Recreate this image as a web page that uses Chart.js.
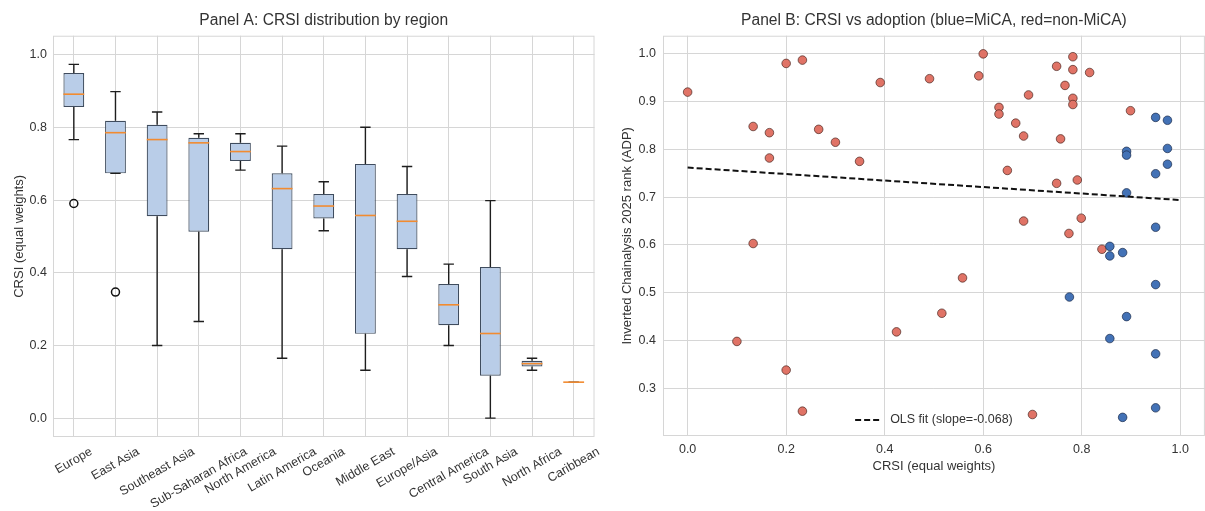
<!DOCTYPE html>
<html>
<head>
<meta charset="utf-8">
<script src="https://cdn.jsdelivr.net/npm/chart.js@4.4.0/dist/chart.umd.min.js"></script>
<style>
  body { margin: 0; background: #fff; width: 1205px; height: 511px; overflow: hidden; position: relative; }
  .panel { position: absolute; top: 0; height: 511px; }
</style>
</head>
<body>
<div class="panel" style="left:0;width:600px"><canvas id="boxChart" width="600" height="511"></canvas></div>
<div class="panel" style="left:605px;width:605px"><canvas id="scatterChart" width="605" height="511"></canvas></div>
<script>
// Panel A: box plot summary per region
const regions = ["Europe", "East Asia", "Southeast Asia", "Sub-Saharan Africa", "North America",
  "Latin America", "Oceania", "Middle East", "Europe/Asia", "Central America", "South Asia",
  "North Africa", "Caribbean"];
const whiskerLow  = [0.767, 0.674, 0.200, 0.266, 0.683, 0.165, 0.516, 0.132, 0.390, 0.200, 0.000, 0.132, 0.099];
const q1          = [0.857, 0.674, 0.556, 0.513, 0.708, 0.465, 0.550, 0.232, 0.465, 0.256, 0.117, 0.142, 0.099];
const median      = [0.892, 0.786, 0.767, 0.758, 0.734, 0.632, 0.584, 0.558, 0.542, 0.312, 0.233, 0.150, 0.099];
const q3          = [0.950, 0.819, 0.808, 0.772, 0.758, 0.674, 0.617, 0.700, 0.617, 0.369, 0.416, 0.158, 0.099];
const whiskerHigh = [0.974, 0.899, 0.843, 0.783, 0.783, 0.749, 0.651, 0.801, 0.693, 0.424, 0.599, 0.165, 0.099];
const outliers    = [0.591, 0.347, null, null, null, null, null, null, null, null, null, null, null];
const yTicksA = [0.0, 0.2, 0.4, 0.6, 0.8, 1.0];

// Panel B: CRSI vs inverted adoption rank
const nonMicaX = [0.000, 0.133, 0.166, 0.166, 0.200, 0.233, 0.266, 0.300, 0.349, 0.391, 0.133, 0.491,
  0.600, 0.591, 0.692, 0.632, 0.632, 0.666, 0.682, 0.649, 0.749, 0.782, 0.782, 0.816, 0.766, 0.782,
  0.782, 0.757, 0.749, 0.791, 0.899, 0.682, 0.799, 0.774, 0.841, 0.558, 0.516, 0.100, 0.200, 0.233,
  0.424, 0.700];
const nonMicaY = [0.920, 0.848, 0.835, 0.782, 0.980, 0.987, 0.842, 0.815, 0.775, 0.940, 0.603, 0.948,
  1.000, 0.954, 0.914, 0.888, 0.874, 0.855, 0.828, 0.756, 0.974, 0.994, 0.967, 0.961, 0.934, 0.907,
  0.894, 0.822, 0.729, 0.736, 0.881, 0.650, 0.656, 0.624, 0.591, 0.531, 0.457, 0.398, 0.338, 0.252,
  0.418, 0.245];
const micaX = [0.950, 0.974, 0.891, 0.891, 0.974, 0.974, 0.950, 0.891, 0.950, 0.857, 0.857, 0.883,
  0.950, 0.775, 0.891, 0.857, 0.950, 0.950, 0.883];
const micaY = [0.867, 0.861, 0.796, 0.788, 0.802, 0.769, 0.749, 0.709, 0.637, 0.597, 0.577, 0.584,
  0.517, 0.491, 0.450, 0.404, 0.372, 0.259, 0.239];
const fitX = [0.0, 1.0];
const fitY = [0.762, 0.694];
const fitSlope = -0.068;
const xTicksB = [0.0, 0.2, 0.4, 0.6, 0.8, 1.0];
const yTicksB = [0.3, 0.4, 0.5, 0.6, 0.7, 0.8, 0.9, 1.0];

const FONT = "'Liberation Sans', Arial, sans-serif";
const TEXT = "#333333";
const GRID = "#d6d6d6";
Chart.defaults.font.family = FONT;
Chart.defaults.color = TEXT;

const toPoints = (xs, ys) => xs.map((x, i) => ({ x: x, y: ys[i] }));

// light grey frame round the plot area
const frame = {
  id: "frame",
  afterDraw(chart) {
    const a = chart.chartArea, ctx = chart.ctx;
    ctx.save();
    ctx.strokeStyle = GRID;
    ctx.lineWidth = 1;
    ctx.strokeRect(a.left + 0.5, a.top + 0.5, a.right - a.left - 1, a.bottom - a.top - 1);
    ctx.restore();
  }
};

// whiskers, caps and medians on top of the floating bars
const boxParts = {
  id: "boxParts",
  afterDatasetsDraw(chart) {
    const ctx = chart.ctx, y = chart.scales.y;
    const bars = chart.getDatasetMeta(0).data;
    ctx.save();
    bars.forEach((bar, i) => {
      const x = bar.x, half = bar.width / 2, cap = half / 2;
      ctx.strokeStyle = "#1e1e1e";
      ctx.lineWidth = 1.4;
      ctx.beginPath();
      ctx.moveTo(x, y.getPixelForValue(q3[i]));
      ctx.lineTo(x, y.getPixelForValue(whiskerHigh[i]));
      ctx.moveTo(x, y.getPixelForValue(q1[i]));
      ctx.lineTo(x, y.getPixelForValue(whiskerLow[i]));
      ctx.moveTo(x - cap, y.getPixelForValue(whiskerHigh[i]));
      ctx.lineTo(x + cap, y.getPixelForValue(whiskerHigh[i]));
      ctx.moveTo(x - cap, y.getPixelForValue(whiskerLow[i]));
      ctx.lineTo(x + cap, y.getPixelForValue(whiskerLow[i]));
      ctx.stroke();
      ctx.strokeStyle = "#f28b30";
      ctx.lineWidth = 1.6;
      ctx.beginPath();
      ctx.moveTo(x - half, y.getPixelForValue(median[i]));
      ctx.lineTo(x + half, y.getPixelForValue(median[i]));
      ctx.stroke();
    });
    ctx.restore();
  }
};

// category labels rotated 30 degrees and centred on their tick
const rotatedLabels = {
  id: "rotatedLabels",
  afterDraw(chart) {
    const ctx = chart.ctx, xs = chart.scales.x;
    const size = 12.5, ang = Math.PI / 6;
    ctx.save();
    ctx.font = size + "px " + FONT;
    ctx.fillStyle = TEXT;
    ctx.textAlign = "center";
    ctx.textBaseline = "middle";
    xs.ticks.forEach((t, i) => {
      const label = xs.getLabelForValue(t.value);
      const w = ctx.measureText(label).width, h = size * 1.15;
      const boxH = w * Math.sin(ang) + h * Math.cos(ang);
      ctx.save();
      ctx.translate(xs.getPixelForTick(i), chart.chartArea.bottom + 7.5 + boxH / 2);
      ctx.rotate(-ang);
      ctx.fillText(label, 0, 0);
      ctx.restore();
    });
    ctx.restore();
  }
};

// legend for the fit line, lower centre inside the plot
const fitLegend = {
  id: "fitLegend",
  afterDraw(chart) {
    const ctx = chart.ctx, a = chart.chartArea;
    const label = chart.data.datasets[2].label;
    ctx.save();
    ctx.font = "12.5px " + FONT;
    const tw = ctx.measureText(label).width;
    const total = 27 + 8 + tw;
    const x0 = (a.left + a.right) / 2 - total / 2, yy = a.bottom - 16;
    ctx.strokeStyle = "#111";
    ctx.lineWidth = 2;
    ctx.setLineDash([6, 3]);
    ctx.beginPath();
    ctx.moveTo(x0, yy);
    ctx.lineTo(x0 + 27, yy);
    ctx.stroke();
    ctx.setLineDash([]);
    ctx.fillStyle = TEXT;
    ctx.textBaseline = "middle";
    ctx.fillText(label, x0 + 35, yy);
    ctx.restore();
  }
};

const titleOpts = (text) => ({
  display: true, text: text, color: TEXT, fullSize: false,
  font: { size: 15.6, weight: "normal" }, padding: { top: 11, bottom: 6 }
});

new Chart(document.getElementById("boxChart").getContext("2d"), {
  type: "bar",
  data: {
    labels: regions,
    datasets: [{
      label: "IQR",
      data: q1.map((v, i) => [v, q3[i]]),
      backgroundColor: "#b9cde8",
      borderColor: "#3f4c5e",
      borderWidth: 1.2,
      borderSkipped: false,
      barPercentage: 0.5,
      categoryPercentage: 1.0,
      order: 2
    }, {
      type: "line",
      label: "Outliers",
      data: outliers,
      showLine: false,
      pointRadius: 4,
      pointBorderWidth: 1.5,
      pointBorderColor: "#111",
      pointBackgroundColor: "rgba(0,0,0,0)",
      order: 1
    }]
  },
  options: {
    responsive: false,
    animation: false,
    layout: { padding: { left: 0, right: 5, top: 0, bottom: 0 } },
    plugins: {
      legend: { display: false },
      tooltip: { enabled: false },
      title: titleOpts("Panel A: CRSI distribution by region")
    },
    scales: {
      x: {
        offset: true,
        grid: { offset: false, color: GRID, drawTicks: false },
        border: { display: false },
        ticks: { display: false },
        afterFit: (s) => { s.height = 74; }
      },
      y: {
        min: -0.052, max: 1.053,
        grid: { color: GRID, drawTicks: false },
        border: { display: false },
        afterBuildTicks: (s) => { s.ticks = yTicksA.map(v => ({ value: v })); },
        ticks: { padding: 6, font: { size: 12.5 }, color: TEXT, callback: (v) => v.toFixed(1) },
        title: { display: true, text: "CRSI (equal weights)", font: { size: 13 }, color: TEXT, padding: { top: 12, bottom: 0 } },
        afterFit: (s) => { s.width = 53; }
      }
    }
  },
  plugins: [frame, boxParts, rotatedLabels]
});

new Chart(document.getElementById("scatterChart").getContext("2d"), {
  type: "scatter",
  data: {
    datasets: [{
      label: "non-MiCA",
      data: toPoints(nonMicaX, nonMicaY),
      backgroundColor: "#e07366",
      borderColor: "rgba(70,35,30,0.85)",
      borderWidth: 0.8,
      pointRadius: 4.3,
      order: 3
    }, {
      label: "MiCA",
      data: toPoints(micaX, micaY),
      backgroundColor: "#4372b6",
      borderColor: "rgba(25,40,70,0.85)",
      borderWidth: 0.8,
      pointRadius: 4.3,
      order: 2
    }, {
      type: "line",
      label: "OLS fit (slope=" + fitSlope.toFixed(3) + ")",
      data: toPoints(fitX, fitY),
      borderColor: "#111",
      borderWidth: 2,
      borderDash: [6, 3],
      pointRadius: 0,
      fill: false,
      order: 1
    }]
  },
  options: {
    responsive: false,
    animation: false,
    layout: { padding: { left: 0, right: 0, top: 0, bottom: 0 } },
    plugins: {
      legend: { display: false },
      tooltip: { enabled: false },
      title: titleOpts("Panel B: CRSI vs adoption (blue=MiCA, red=non-MiCA)")
    },
    scales: {
      x: {
        type: "linear",
        min: -0.05, max: 1.05,
        grid: { color: GRID, drawTicks: false },
        border: { display: false },
        afterBuildTicks: (s) => { s.ticks = xTicksB.map(v => ({ value: v })); },
        ticks: { padding: 6, font: { size: 12.5 }, color: TEXT, maxRotation: 0, callback: (v) => v.toFixed(1) },
        title: { display: true, text: "CRSI (equal weights)", font: { size: 13 }, color: TEXT, padding: { top: 0, bottom: 37 } },
        afterFit: (s) => { s.height = 75; }
      },
      y: {
        min: 0.2, max: 1.038,
        grid: { color: GRID, drawTicks: false },
        border: { display: false },
        afterBuildTicks: (s) => { s.ticks = yTicksB.map(v => ({ value: v })); },
        ticks: { padding: 7, font: { size: 12.5 }, color: TEXT, callback: (v) => v.toFixed(1) },
        title: { display: true, text: "Inverted Chainalysis 2025 rank (ADP)", font: { size: 13 }, color: TEXT, padding: { top: 15, bottom: 0 } },
        afterFit: (s) => { s.width = 58; }
      }
    }
  },
  plugins: [frame, fitLegend]
});
</script>
</body>
</html>
